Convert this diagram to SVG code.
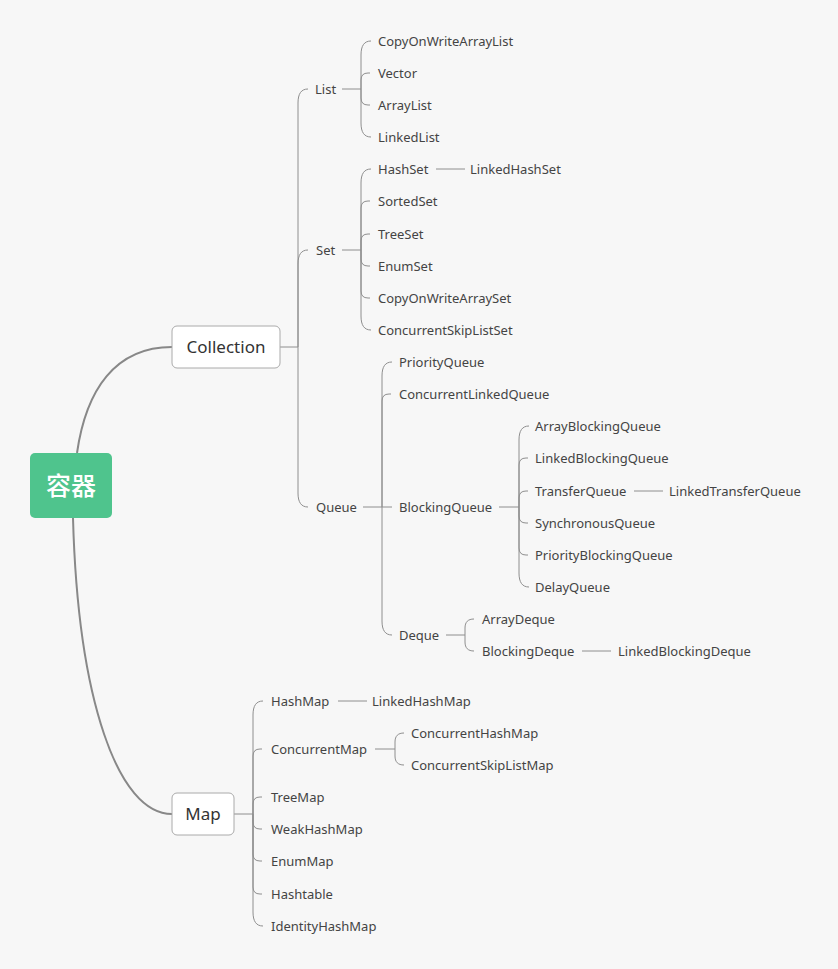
<svg xmlns="http://www.w3.org/2000/svg" width="838" height="969" viewBox="0 0 838 969">
<style>
.t{font-family:"Noto Sans","Open Sans","Liberation Sans",sans-serif;font-size:13px;fill:#444}
.b{font-family:"Noto Sans","Open Sans","Liberation Sans",sans-serif;font-size:17px;fill:#333;text-anchor:middle}
.l{fill:none;stroke:#8e8e8e;stroke-width:1}
.m{fill:none;stroke:#888;stroke-width:2}
</style>
<rect width="838" height="969" fill="#f7f7f7"/>
<g id="connectors">
<path class="m" d="M77,453 C86,390 115,347 172,347"/>
<path class="m" d="M73,518 C78,700 118,814 172,814"/>
<path class="l" d="M280,347 H298 M298,347 V103 C298,94 301,89 308,89 M298,347 V264 C298,255 301,250 308,250 M298,347 V493 C298,502 301,507 308,507"/>
<path class="l" d="M342,89 H361 M361,89 V55 C361,46 364,41 371,41 M361,89 V80 Q361,73 368,73 H370 M361,89 V98 Q361,105 368,105 H370 M361,89 V123 C361,132 364,137 371,137"/>
<path class="l" d="M342,250 H361 M361,250 V183 C361,174 364,169 371,169 M361,250 V208 Q361,201 368,201 H370 M361,250 V241 Q361,234 368,234 H370 M361,250 V259 Q361,266 368,266 H370 M361,250 V291 Q361,298 368,298 H370 M361,250 V316 C361,325 364,330 371,330"/>
<path class="l" d="M436,169 H465"/>
<path class="l" d="M363,507 H392 M382,507 V376 C382,367 385,362 392,362 M382,507 V401 Q382,394 389,394 H391 M382,507 V621 C382,630 385,635 392,635"/>
<path class="l" d="M499,507 H519 M519,507 V440 C519,431 522,426 529,426 M519,507 V465 Q519,458 526,458 H528 M519,507 V498 Q519,491 526,491 H528 M519,507 V516 Q519,523 526,523 H528 M519,507 V548 Q519,555 526,555 H528 M519,507 V573 C519,582 522,587 529,587"/>
<path class="l" d="M634,491 H663"/>
<path class="l" d="M446,635 H465 M465,635 V628 C465,622 468,619 474,619 M465,635 V642 C465,648 468,651 474,651"/>
<path class="l" d="M582,651 H611"/>
<path class="l" d="M234,814 H253 M253,814 V715 C253,706 256,701 263,701 M253,814 V756 Q253,749 260,749 H262 M253,814 V804 Q253,797 260,797 H262 M253,814 V822 Q253,829 260,829 H262 M253,814 V854 Q253,861 260,861 H262 M253,814 V887 Q253,894 260,894 H262 M253,814 V912 C253,921 256,926 263,926"/>
<path class="l" d="M338,701 H367"/>
<path class="l" d="M375,749 H395 M395,749 V742 C395,736 398,733 404,733 M395,749 V756 C395,762 398,765 404,765"/>
</g>
<g id="root"><rect x="30" y="453" width="82" height="65" rx="5" fill="#4fc48d"/><text x="71" y="495" text-anchor="middle" font-family="'Noto Sans CJK SC',sans-serif" font-size="25" font-weight="500" fill="#fff">容器</text></g>
<g id="collection"><rect x="172" y="326" width="108" height="42" rx="5" fill="#fff" stroke="#aaa"/><text class="b" x="226" y="353">Collection</text></g>
<g id="map"><rect x="172" y="793" width="62" height="42" rx="5" fill="#fff" stroke="#aaa"/><text class="b" x="203" y="820">Map</text></g>
<g id="list"><text class="t" x="315" y="94">List</text></g>
<g id="copyonwritearraylist"><text class="t" x="378" y="46">CopyOnWriteArrayList</text></g>
<g id="vector"><text class="t" x="378" y="78">Vector</text></g>
<g id="arraylist"><text class="t" x="378" y="110">ArrayList</text></g>
<g id="linkedlist"><text class="t" x="378" y="142">LinkedList</text></g>
<g id="set"><text class="t" x="316" y="255">Set</text></g>
<g id="hashset"><text class="t" x="378" y="174">HashSet</text></g>
<g id="linkedhashset"><text class="t" x="470" y="174">LinkedHashSet</text></g>
<g id="sortedset"><text class="t" x="378" y="206">SortedSet</text></g>
<g id="treeset"><text class="t" x="378" y="239">TreeSet</text></g>
<g id="enumset"><text class="t" x="378" y="271">EnumSet</text></g>
<g id="copyonwritearrayset"><text class="t" x="378" y="303">CopyOnWriteArraySet</text></g>
<g id="concurrentskiplistset"><text class="t" x="378" y="335">ConcurrentSkipListSet</text></g>
<g id="queue"><text class="t" x="316" y="512">Queue</text></g>
<g id="priorityqueue"><text class="t" x="399" y="367">PriorityQueue</text></g>
<g id="concurrentlinkedqueue"><text class="t" x="399" y="399">ConcurrentLinkedQueue</text></g>
<g id="blockingqueue"><text class="t" x="399" y="512">BlockingQueue</text></g>
<g id="arrayblockingqueue"><text class="t" x="535" y="431">ArrayBlockingQueue</text></g>
<g id="linkedblockingqueue"><text class="t" x="535" y="463">LinkedBlockingQueue</text></g>
<g id="transferqueue"><text class="t" x="535" y="496">TransferQueue</text></g>
<g id="linkedtransferqueue"><text class="t" x="669" y="496">LinkedTransferQueue</text></g>
<g id="synchronousqueue"><text class="t" x="535" y="528">SynchronousQueue</text></g>
<g id="priorityblockingqueue"><text class="t" x="535" y="560">PriorityBlockingQueue</text></g>
<g id="delayqueue"><text class="t" x="535" y="592">DelayQueue</text></g>
<g id="deque"><text class="t" x="399" y="640">Deque</text></g>
<g id="arraydeque"><text class="t" x="482" y="624">ArrayDeque</text></g>
<g id="blockingdeque"><text class="t" x="482" y="656">BlockingDeque</text></g>
<g id="linkedblockingdeque"><text class="t" x="618" y="656">LinkedBlockingDeque</text></g>
<g id="hashmap"><text class="t" x="271" y="706">HashMap</text></g>
<g id="linkedhashmap"><text class="t" x="372" y="706">LinkedHashMap</text></g>
<g id="concurrentmap"><text class="t" x="271" y="754">ConcurrentMap</text></g>
<g id="concurrenthashmap"><text class="t" x="411" y="738">ConcurrentHashMap</text></g>
<g id="concurrentskiplistmap"><text class="t" x="411" y="770">ConcurrentSkipListMap</text></g>
<g id="treemap"><text class="t" x="271" y="802">TreeMap</text></g>
<g id="weakhashmap"><text class="t" x="271" y="834">WeakHashMap</text></g>
<g id="enummap"><text class="t" x="271" y="866">EnumMap</text></g>
<g id="hashtable"><text class="t" x="271" y="899">Hashtable</text></g>
<g id="identityhashmap"><text class="t" x="271" y="931">IdentityHashMap</text></g>
</svg>
